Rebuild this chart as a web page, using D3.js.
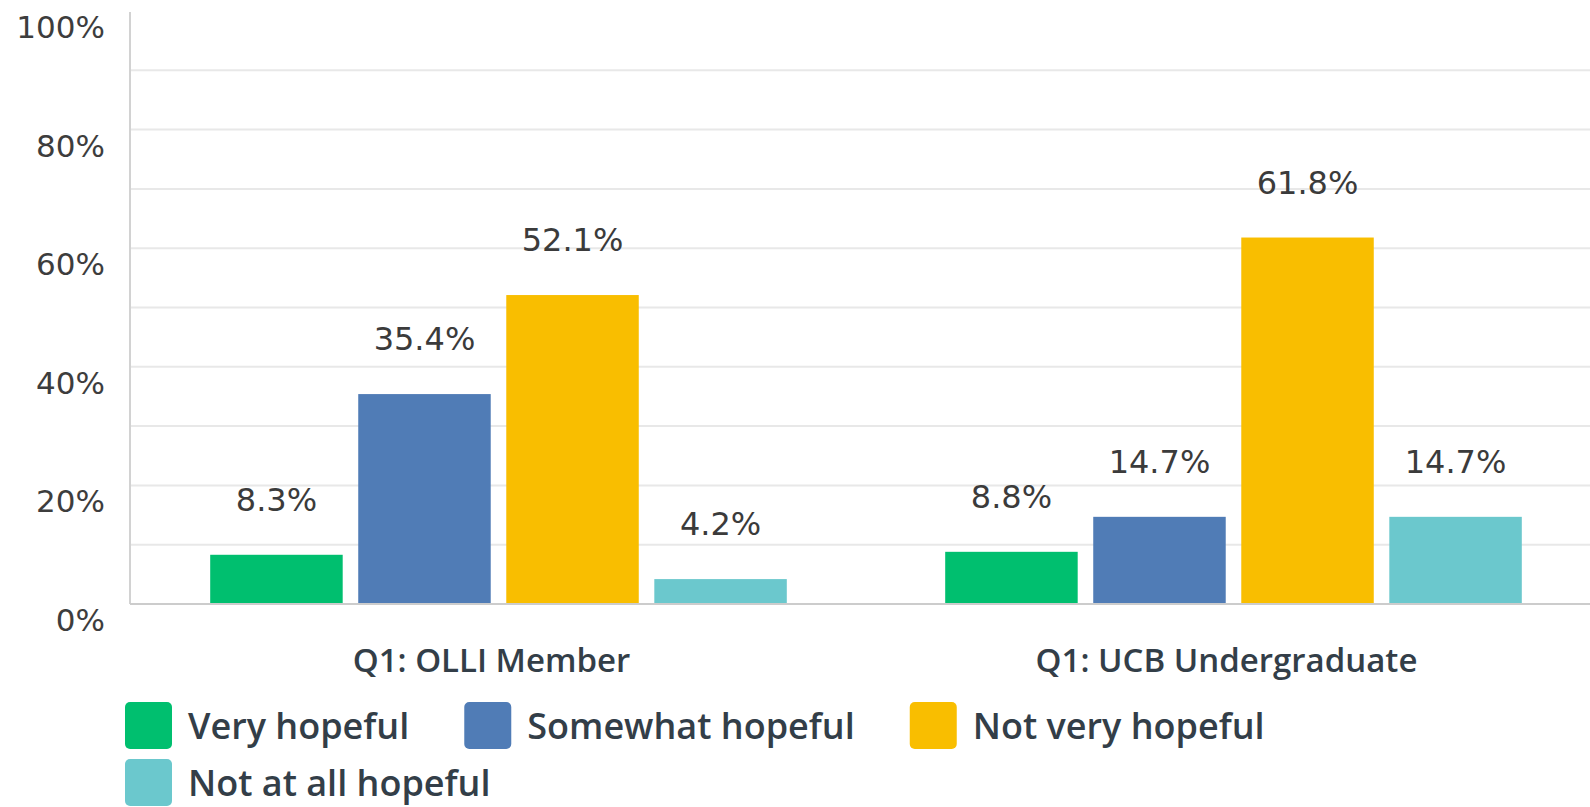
<!DOCTYPE html>
<html>
<head>
<meta charset="utf-8">
<script src="https://cdn.jsdelivr.net/npm/d3@7"></script>
<style>
  body { margin: 0; background: #fff; }
  svg { display: block; }
</style>
</head>
<body>
<div id="chart"></div>
<script>
// data
const categories = ['Q1: OLLI Member', 'Q1: UCB Undergraduate'];
const series = ['Very hopeful', 'Somewhat hopeful', 'Not very hopeful', 'Not at all hopeful'];
const olliValues = [8.3, 35.4, 52.1, 4.2];
const ucbValues = [8.8, 14.7, 61.8, 14.7];
const yTicks = [0, 20, 40, 60, 80, 100];
const colors = ['#00bf6f', '#507cb6', '#f9be00', '#6bc8cd'];

const valuesByCat = [olliValues, ucbValues];

const width = 1590;
const height = 807;
const baseY = 604;
const topY = 11;
const axisX = 130;

const svg = d3.select('#chart')
  .append('svg')
  .attr('width', width)
  .attr('height', height);

const y = d3.scaleLinear().domain([0, 100]).range([baseY, topY]);

const x0 = d3.scaleBand().domain(categories).range([131, 1601]);
const x1 = d3.scaleBand().domain(series)
  .range([0, x0.bandwidth()])
  .paddingInner(0.105)
  .paddingOuter(0.535);

const color = d3.scaleOrdinal().domain(series).range(colors);

// gridlines
svg.append('g')
  .selectAll('line')
  .data(d3.range(10, 100, 10))
  .enter().append('line')
  .attr('x1', axisX)
  .attr('x2', width)
  .attr('y1', d => y(d))
  .attr('y2', d => y(d))
  .attr('stroke', '#e8e8e8')
  .attr('stroke-width', 2);

// y axis labels (sit a bit under their gridline, like the original)
svg.append('g')
  .selectAll('text')
  .data(yTicks)
  .enter().append('text')
  .attr('x', 105)
  .attr('y', d => y(d) + 27)
  .attr('text-anchor', 'end')
  .style('font-family', 'DejaVu Sans')
  .style('font-size', '31px')
  .style('fill', '#3d3d3d')
  .text(d => d + '%');

// bars
const groups = svg.append('g')
  .selectAll('g')
  .data(categories)
  .enter().append('g')
  .attr('transform', d => `translate(${x0(d)},0)`);

groups.selectAll('rect')
  .data((d, i) => valuesByCat[i].map((v, j) => ({ key: series[j], value: v })))
  .enter().append('rect')
  .attr('x', d => x1(d.key))
  .attr('y', d => y(d.value))
  .attr('width', x1.bandwidth())
  .attr('height', d => baseY - y(d.value))
  .attr('fill', d => color(d.key));

groups.selectAll('text')
  .data((d, i) => valuesByCat[i].map((v, j) => ({ key: series[j], value: v })))
  .enter().append('text')
  .attr('x', d => x1(d.key) + x1.bandwidth() / 2)
  .attr('y', d => y(d.value) - 44)
  .attr('text-anchor', 'middle')
  .style('font-family', 'DejaVu Sans')
  .style('font-size', '32px')
  .style('fill', '#3b3b3b')
  .text(d => d.value.toFixed(1) + '%');

// axis lines
svg.append('line')
  .attr('x1', axisX).attr('x2', axisX)
  .attr('y1', 12).attr('y2', baseY)
  .attr('stroke', '#d2d2d2')
  .attr('stroke-width', 2);

svg.append('line')
  .attr('x1', axisX).attr('x2', width)
  .attr('y1', baseY).attr('y2', baseY)
  .attr('stroke', '#cccccc')
  .attr('stroke-width', 2);

// category labels
svg.append('g')
  .selectAll('text')
  .data(categories)
  .enter().append('text')
  .attr('x', d => x0(d) + x0.bandwidth() / 2 - 7)
  .attr('y', 672)
  .attr('text-anchor', 'middle')
  .style('font-family', 'Open Sans')
  .style('font-weight', 600)
  .style('font-size', '33px')
  .style('fill', '#333e48')
  .text(d => d);

// legend, flows left to right and wraps
const legend = svg.append('g');
let lx = 125, ly = 702;
const sw = 47, rowH = 57;
series.forEach((s, i) => {
  const item = legend.append('g');
  item.append('rect')
    .attr('width', sw)
    .attr('height', sw)
    .attr('rx', 5)
    .attr('fill', colors[i]);
  const t = item.append('text')
    .attr('x', sw + 16)
    .attr('y', 37)
    .style('font-family', 'Open Sans')
    .style('font-weight', 600)
    .style('font-size', '36px')
    .style('fill', '#333e48')
    .text(s);
  const w = sw + 16 + t.node().getComputedTextLength();
  if (lx + w > width - 20) {
    lx = 125;
    ly += rowH;
  }
  item.attr('transform', `translate(${lx},${ly})`);
  lx += w + 55;
});
</script>
</body>
</html>
